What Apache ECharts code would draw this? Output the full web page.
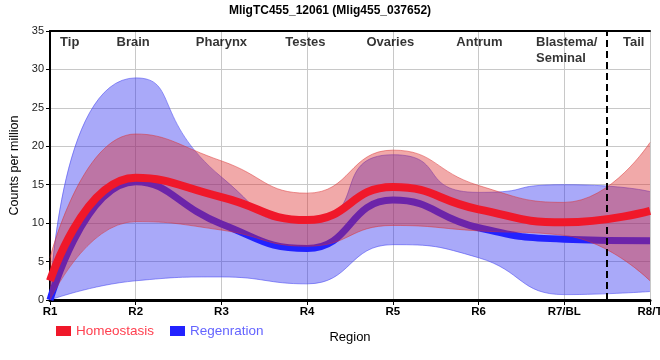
<!DOCTYPE html>
<html><head><meta charset="utf-8">
<script src="https://cdn.jsdelivr.net/npm/echarts@6/dist/echarts.min.js"></script>
<style>html,body{margin:0;padding:0;background:#fff}#c{width:660px;height:360px}</style>
</head><body><div id="c"></div>
<script>
// ---- data ----
const regions = ['R1', 'R2', 'R3', 'R4', 'R5', 'R6', 'R7/BL', 'R8/T'];
const homeoMean  = [2.5, 15.9, 13.4, 10.4, 14.7, 11.8, 10.1, 11.6];
const homeoUpper = [5.5, 21.6, 18.1, 13.9, 19.5, 14.9, 12.7, 20.5];
const homeoLower = [0.0, 10.2, 9.1, 7.0, 9.7, 9.0, 8.4, 2.5];
const regenMean  = [0.0, 15.4, 9.9, 6.7, 13.0, 9.4, 7.9, 7.7];
const regenUpper = [0.0, 28.9, 16.0, 10.3, 18.9, 14.0, 15.0, 14.1];
const regenLower = [0.0, 2.5, 3.0, 2.1, 7.2, 5.5, 0.7, 1.1];
const regionNames = ['Tip', 'Brain', 'Pharynx', 'Testes', 'Ovaries', 'Antrum', 'Blastema/\nSeminal', 'Tail'];
const regionLabelX = [0.23, 0.97, 2.0, 2.98, 3.97, 5.01, 5.67, 6.81];
const dividerX = 6.5;   // between R7/BL and R8/T
const yTicks = {min: 0, max: 35, interval: 5};

// ---- helpers ----
const spans = (u, l) => u.map((v, i) => +(v - l[i]).toFixed(3));
const FONT = "'Liberation Sans', Arial, sans-serif";
const SM = 0.5;

const chart = echarts.init(document.getElementById('c'), null, {renderer: 'canvas'});
chart.setOption({
  animation: false,
  backgroundColor: '#fff',
  title: {
    text: 'MligTC455_12061 (Mlig455_037652)',
    left: 'center', top: 0,
    textStyle: {fontFamily: FONT, fontSize: 12, fontWeight: 'bold', color: '#000'}
  },
  grid: {left: 50, right: 10, top: 31, bottom: 60, containLabel: false, outerBoundsMode: 'none'},
  legend: {
    data: [
      {name: 'Homeostasis', textStyle: {color: '#ff4050'}},
      {name: 'Regenration', textStyle: {color: '#6464ff'}}
    ],
    left: 56, top: 324, padding: 0, icon: 'rect', itemWidth: 15, itemHeight: 10, itemGap: 16,
    textStyle: {fontFamily: FONT, fontSize: 13.5}
  },
  xAxis: [{
    type: 'category', data: regions, boundaryGap: false,
    name: 'Region', nameLocation: 'middle', nameGap: 31,
    nameTextStyle: {fontFamily: FONT, fontSize: 13, color: '#000'},
    axisLine: {show: true, onZero: false, lineStyle: {color: '#000', width: 3}},
    axisTick: {show: true, length: 5, lineStyle: {color: '#000', width: 1}},
    axisLabel: {
      margin: 6, interval: 0,
      fontFamily: FONT, fontSize: 11.5, fontWeight: 'bold', color: '#000'
    },
    splitLine: {show: true, interval: 0, lineStyle: {color: '#c8c8c8', width: 1}}
  }, {
    type: 'value', position: 'top', min: 0, max: regions.length - 1,
    axisLine: {show: true, onZero: false, lineStyle: {color: '#000', width: 2}},
    axisTick: {show: false}, axisLabel: {show: false}, splitLine: {show: false}
  }],
  yAxis: {
    type: 'value', min: yTicks.min, max: yTicks.max, interval: yTicks.interval,
    name: 'Counts per million', nameLocation: 'middle', nameGap: 22, nameRotate: 90,
    nameTextStyle: {fontFamily: FONT, fontSize: 12.5, color: '#000'},
    axisLine: {show: true, lineStyle: {color: '#000', width: 2}},
    axisTick: {show: true, length: 4, lineStyle: {color: '#000'}},
    axisLabel: {fontFamily: FONT, fontSize: 11, color: '#222', margin: 6},
    splitLine: {show: true, lineStyle: {color: '#c8c8c8', width: 1}}
  },
  series: [
    {type: 'line', name: 'regenLow', stack: 'rg', data: regenLower, smooth: SM,
     symbol: 'none', lineStyle: {width: 1, color: 'rgba(70,70,240,0.55)'}, z: 2},
    {type: 'line', name: 'regenBand', stack: 'rg', data: spans(regenUpper, regenLower), smooth: 0.7,
     symbol: 'none', lineStyle: {width: 1, color: 'rgba(70,70,240,0.55)'},
     areaStyle: {color: 'rgba(40,40,240,0.4)', opacity: 1}, z: 2},
    {type: 'line', name: 'Regenration', data: regenMean, smooth: SM, symbol: 'none',
     color: '#2222ff', lineStyle: {width: 7, color: '#2222ff'}, z: 3},
    {type: 'line', name: 'homeoLow', stack: 'hm', data: homeoLower, smooth: SM,
     symbol: 'none', lineStyle: {width: 1, color: 'rgba(220,50,50,0.5)'}, z: 4},
    {type: 'line', name: 'homeoBand', stack: 'hm', data: spans(homeoUpper, homeoLower), smooth: SM,
     symbol: 'none', lineStyle: {width: 1, color: 'rgba(220,50,50,0.5)'},
     areaStyle: {color: 'rgba(220,40,40,0.4)', opacity: 1}, z: 4},
    {type: 'line', name: 'Homeostasis', data: homeoMean, smooth: SM, symbol: 'none',
     color: '#f0182a', lineStyle: {width: 8, color: '#f0182a'}, z: 5},
    {type: 'scatter', name: 'regionLabels', xAxisIndex: 1, symbolSize: 0, clip: false, z: 6,
     markLine: {
       silent: true, symbol: ['none', 'none'], label: {show: false},
       lineStyle: {color: '#000', width: 2, type: [7, 4]},
       data: [[{coord: [dividerX, yTicks.min]}, {coord: [dividerX, yTicks.max]}]]
     },
     data: regionNames.map((n, i) => ({
       value: [regionLabelX[i], yTicks.max],
       label: {
         show: true, formatter: n, position: 'bottom', distance: 3,
         align: n.indexOf('\n') >= 0 ? 'left' : 'center',
         fontFamily: FONT, fontSize: 13, fontWeight: 'bold', color: '#000', lineHeight: 16
       }
     }))}
  ]
});
</script></body></html>
